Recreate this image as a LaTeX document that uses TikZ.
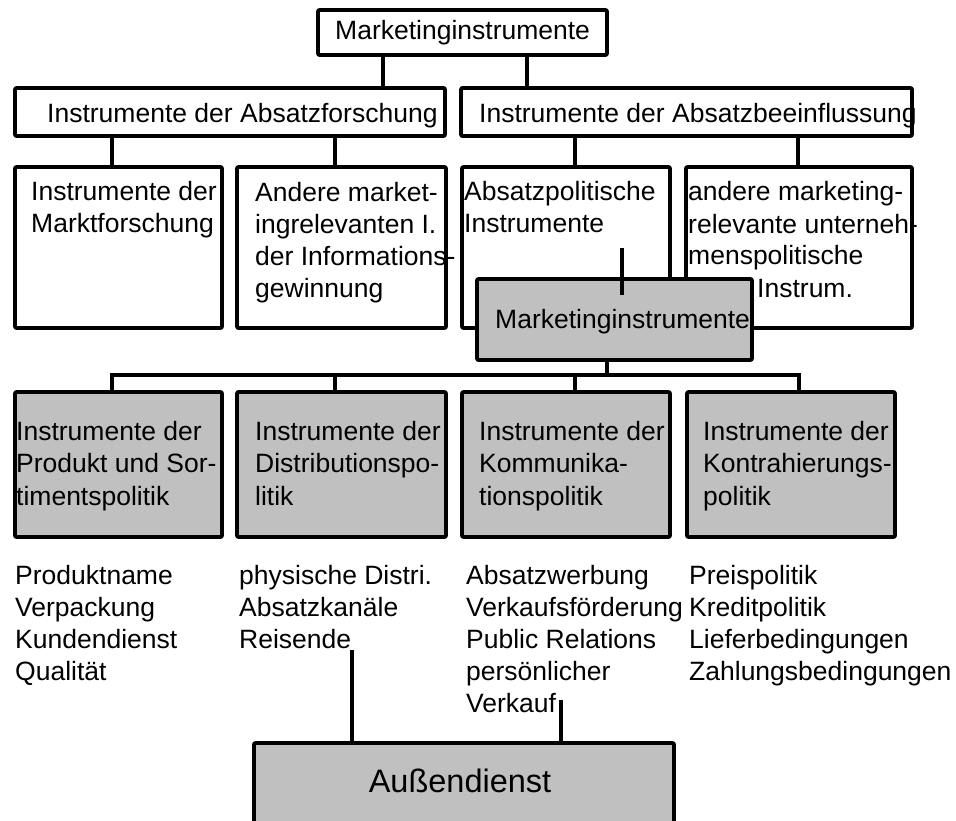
\documentclass[tikz,border=0pt]{standalone}
\usepackage{fontspec}
\setmainfont{Liberation Sans}
\begin{document}
\begin{tikzpicture}[x=1pt,y=-1pt,
  frame/.style={draw=black,line width=3.6pt,line join=round,rounded corners=1pt,
    inner sep=0pt,outer sep=0pt},
  whitebox/.style={frame,fill=white},
  graybox/.style={frame,fill=boxgray},
  lbl/.style={inner sep=0pt,anchor=base west,align=left,
    font={\fontsize{26.5}{32}\selectfont}},
  lbltall/.style={lbl,font={\fontsize{26.5}{32.5}\selectfont}},
  lbllist/.style={lbl,font={\fontsize{26.5}{31.8}\selectfont}},
  wire/.style={line width=3.6pt}]
\definecolor{boxgray}{HTML}{C0C0C0}
\clip (0,0) rectangle (956,821);
\fill[white] (0,0) rectangle (956,821);

% level 0 and 1
\node[whitebox,minimum width=289pt,minimum height=45pt] (top) at (462.5,32.5) {};
\node[whitebox,minimum width=430pt,minimum height=48pt] (forsch) at (230,112) {};
\node[whitebox,minimum width=451pt,minimum height=48pt] (beein) at (686.5,112) {};

% level 2
\node[whitebox,minimum width=207pt,minimum height=161pt] (mafo) at (118.5,247.5) {};
\node[whitebox,minimum width=209pt,minimum height=161pt] (infog) at (341.5,247.5) {};
\node[whitebox,minimum width=208pt,minimum height=161pt] (abspol) at (566,247.5) {};
\node[whitebox,minimum width=226pt,minimum height=161pt] (unpol) at (799,247.5) {};

% junction points of the connectors
\coordinate (jA) at (383,0);
\coordinate (jB) at (527,0);
\coordinate (jC) at (112,0);
\coordinate (jD) at (335,0);
\coordinate (jE) at (575,0);
\coordinate (jF) at (798,0);
\coordinate (jG) at (607,0);
\coordinate (jH) at (799,0);
\coordinate (bus) at (0,375);

\draw[wire] (top.south -| jA) -- (forsch.north -| jA);
\draw[wire] (top.south -| jB) -- (beein.north -| jB);
\draw[wire] (forsch.south -| jC) -- (mafo.north -| jC);
\draw[wire] (forsch.south -| jD) -- (infog.north -| jD);
\draw[wire] (beein.south -| jE) -- (abspol.north -| jE);
\draw[wire] (beein.south -| jF) -- (unpol.north -| jF);

% texts (a multi-line label sits on the baseline of its last line)
\node[lbl] (tTop) at (335,40) {Marketinginstrumente};
\node[lbl] (tForsch) at (47,123) {Instrumente der Absatzforschung};
\node[lbl] (tBeein) at (479,123) {Instrumente der Absatzbeeinflussung};
\node[lbl] (tMafo) at (31,233) {Instrumente der\\Marktforschung};
\node[lbl] (tInfog) at (255,297) {Andere market-\\ingrelevanten I.\\der Informations-\\gewinnung};
\node[lbl] (tAbspol) at (464,233) {Absatzpolitische\\Instrumente};
\node[lbl] (tUnpol) at (688,265) {andere marketing-\\relevante unterneh-\\menspolitische};
\node[lbl] (tInstrum) at (757,297) {Instrum.};

% marketing instruments (grey)
\node[graybox,minimum width=275pt,minimum height=81pt] (mi) at (614.5,319.5) {};
\node[lbl] (tMi) at (495,328) {Marketinginstrumente};
\coordinate (stubA) at (622,248);
\coordinate (stubB) at (622,295);
\draw[wire] (stubA) -- (stubB);

% level 3
\node[graybox,minimum width=207pt,minimum height=145pt] (prod) at (118.5,464.5) {};
\node[graybox,minimum width=209pt,minimum height=145pt] (distr) at (341.5,464.5) {};
\node[graybox,minimum width=208pt,minimum height=145pt] (komm) at (566,464.5) {};
\node[graybox,minimum width=208pt,minimum height=145pt] (kontr) at (791,464.5) {};

\draw[wire] (mi.south -| jG) -- (bus -| jG);
\draw[wire,line cap=rect] (bus -| jC) -- (bus -| jH);
\draw[wire] (bus -| jC) -- (prod.north -| jC);
\draw[wire] (bus -| jD) -- (distr.north -| jD);
\draw[wire] (bus -| jE) -- (komm.north -| jE);
\draw[wire] (bus -| jH) -- (kontr.north -| jH);

\node[lbltall] (tProd) at (16,505) {Instrumente der\\Produkt und Sor-\\timentspolitik};
\node[lbltall] (tDistr) at (255,505) {Instrumente der\\Distributionspo-\\litik};
\node[lbltall] (tKomm) at (479,505) {Instrumente der\\Kommunika-\\tionspolitik};
\node[lbltall] (tKontr) at (703,505) {Instrumente der\\Kontrahierungs-\\politik};

% lists of single instruments
\node[lbllist] (lProd) at (15,680) {Produktname\\Verpackung\\Kundendienst\\Qualität};
\node[lbllist] (lDistr) at (239,648) {physische Distri.\\Absatzkanäle\\Reisende};
\node[lbllist] (lKomm) at (466,712) {Absatzwerbung\\Verkaufsförderung\\Public Relations\\persönlicher\\Verkauf};
\node[lbllist] (lKontr) at (689,680) {Preispolitik\\Kreditpolitik\\Lieferbedingungen\\Zahlungsbedingungen};

% field service
\node[graybox,minimum width=420pt,minimum height=107pt] (ad) at (464,796.5) {};
\node[inner sep=0pt,anchor=base,font={\fontsize{32.5}{38}\selectfont}] (tAd) at (460,792) {Außendienst};
\coordinate (reis) at (352,650);
\coordinate (verk) at (561,700);
\draw[wire] (reis) -- (ad.north -| reis);
\draw[wire] (verk) -- (ad.north -| verk);
\end{tikzpicture}
\end{document}
